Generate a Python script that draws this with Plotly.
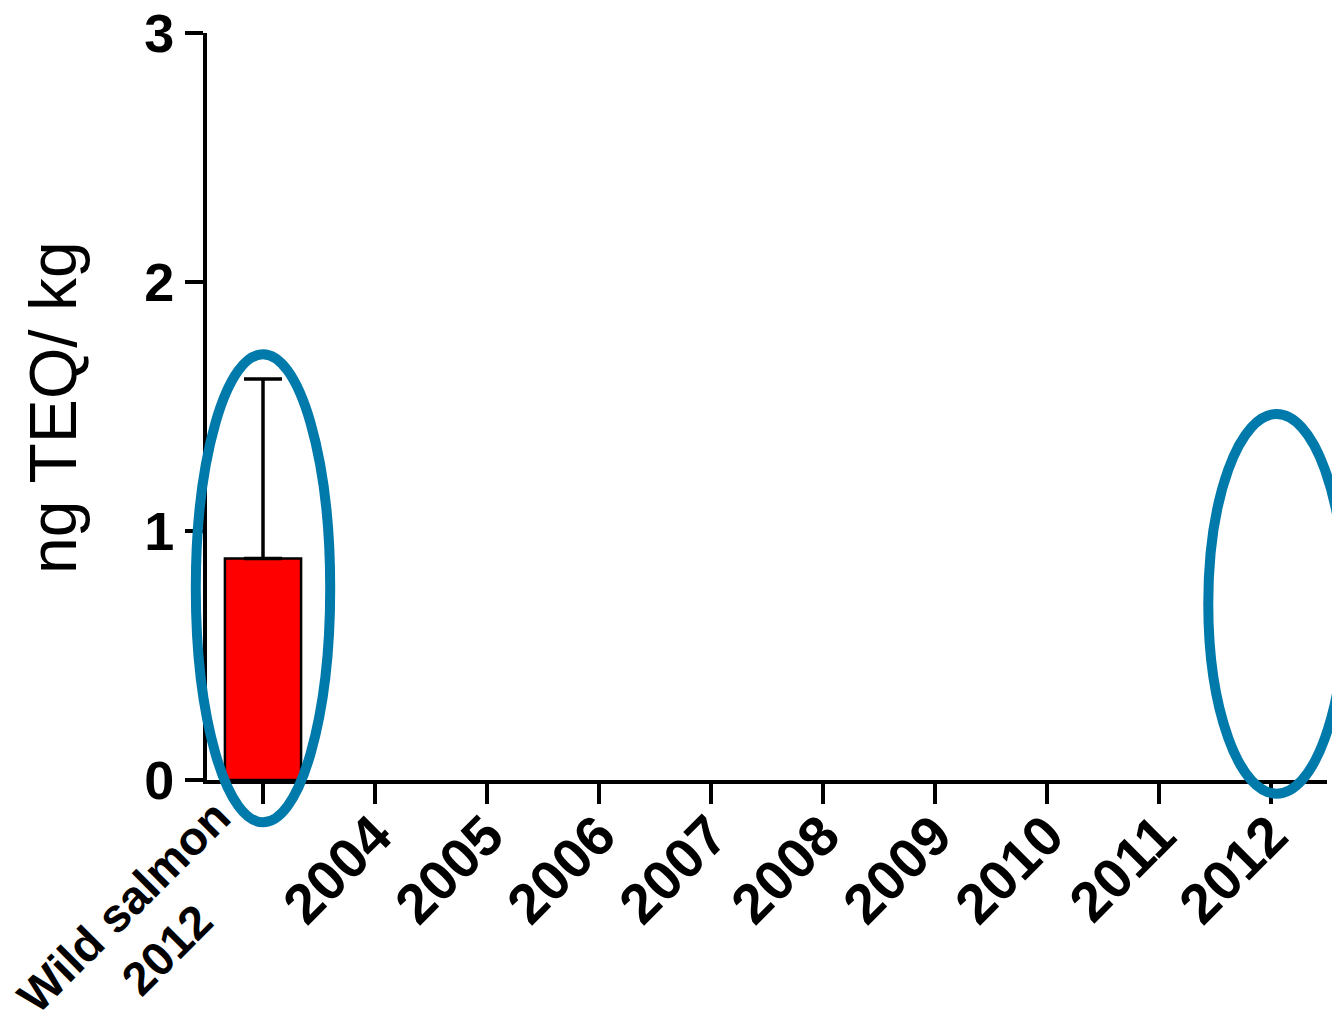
import plotly.graph_objects as go

# ---- data ----
categories = ["Wild salmon 2012", "2004", "2005", "2006", "2007", "2008",
              "2009", "2010", "2011", "2012"]
tick_labels = ["", "2004", "2005", "2006", "2007", "2008",
               "2009", "2010", "2011", "2012"]
values = [0.89, None, None, None, None, None, None, None, None, None]
errors_up = [0.72, None, None, None, None, None, None, None, None, None]
y_ticks = [0, 1, 2, 3]
y_title = "ng TEQ/ kg"
first_label = "Wild salmon<br>2012"

# highlighted categories (index, y-extent in data units, half-width)
highlights = [(0, -0.17, 1.71, 0.60), (9.05, -0.055, 1.47, 0.61)]

FONT = "Liberation Sans, Arial, sans-serif"
x_idx = list(range(len(categories)))

# page offset (browser default body margin)
OFF = 8
L, T, R, B = 207 - OFF, 33 - OFF, 13 + OFF, 237 + OFF
PW = 1340 - L - R
PH = 1017 - T - B

fig = go.Figure()
fig.add_trace(go.Bar(
    x=x_idx, y=values, width=0.68,
    marker=dict(color="#ff0000", line=dict(color="black", width=2.5)),
    error_y=dict(type="data", symmetric=False, array=errors_up,
                 arrayminus=[0 if e is not None else None for e in errors_up],
                 color="black", thickness=3.5, width=19),
    showlegend=False,
))

n = len(categories)
ymax = 3.0
shapes = []
for cx, ylo, yhi, hw in highlights:
    shapes.append(dict(
        type="circle", xref="paper", yref="paper",
        x0=(cx - hw + 0.5) / n, x1=(cx + hw + 0.5) / n,
        y0=ylo / ymax, y1=yhi / ymax,
        line=dict(color="#0079ab", width=10), fillcolor="rgba(0,0,0,0)",
        layer="above",
    ))

def px_to_paper(xpx, ypx):
    return (xpx - 207) / PW, (780 - ypx) / PH

tx, ty = px_to_paper(53, 408)
ax_, ay_ = px_to_paper(145, 928)

fig.update_layout(
    width=1340, height=1017,
    margin=dict(l=L, r=R, t=T, b=B),
    paper_bgcolor="white", plot_bgcolor="white",
    shapes=shapes,
    xaxis=dict(
        range=[-0.5, n - 0.5], tickmode="array", tickvals=x_idx,
        ticktext=tick_labels, tickangle=-45, automargin=False,
        showline=True, linecolor="black", linewidth=4,
        ticks="outside", ticklen=20, tickwidth=4, tickcolor="black",
        showgrid=False, zeroline=False, ticklabelstandoff=-24,
        ticklabeloverflow="allow",
        tickfont=dict(family=FONT, size=56, color="black", weight="bold"),
    ),
    yaxis=dict(
        range=[0, ymax], tickmode="array", tickvals=y_ticks,
        ticktext=[str(t) for t in y_ticks], automargin=False,
        showline=True, linecolor="black", linewidth=4,
        ticks="outside", ticklen=18, tickwidth=4, tickcolor="black",
        showgrid=False, zeroline=False, ticklabeloverflow="allow",
        tickfont=dict(family=FONT, size=54, color="black", weight="bold"),
    ),
    annotations=[
        dict(text=y_title, textangle=-90, xref="paper", yref="paper",
             x=tx, y=ty, xanchor="center", yanchor="middle",
             showarrow=False, font=dict(family=FONT, size=66, color="black")),
        dict(text=first_label, textangle=-45, xref="paper", yref="paper",
             x=ax_, y=ay_, xanchor="center", yanchor="middle", align="center",
             showarrow=False,
             font=dict(family=FONT, size=47, color="black", weight="bold")),
    ],
)

fig.write_html("out.html")
